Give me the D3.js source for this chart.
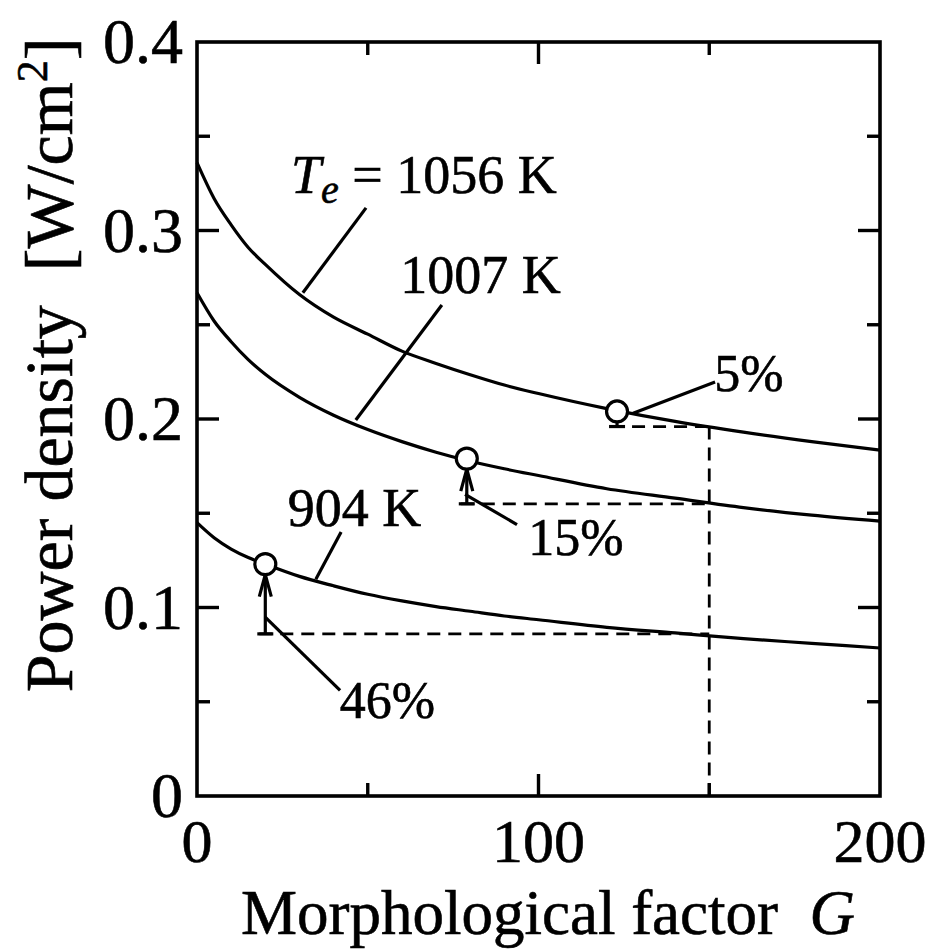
<!DOCTYPE html>
<html>
<head>
<meta charset="utf-8">
<script src="https://cdn.jsdelivr.net/npm/d3@7"></script>
<style>
  body { margin: 0; background: white; }
  text { font-family: "Liberation Serif", "Times New Roman", serif; fill: black; stroke: black; stroke-width: 0.6px; }
</style>
</head>
<body>
<div id="vis"></div>
<script>
// values
const G = [0, 5, 10, 15, 20, 30, 40, 50, 60, 70, 80, 90, 100, 120, 140, 160, 180, 200];
const p1056 = [0.336, 0.317, 0.303, 0.291, 0.282, 0.266, 0.254, 0.245, 0.236, 0.2295, 0.2235, 0.218, 0.2135, 0.2055, 0.1987, 0.193, 0.188, 0.1835];
const p1007 = [0.267, 0.252, 0.241, 0.2315, 0.2237, 0.2115, 0.202, 0.1944, 0.188, 0.1824, 0.1776, 0.1736, 0.170, 0.163, 0.158, 0.153, 0.149, 0.1458];
const p904 = [0.145, 0.137, 0.131, 0.1265, 0.123, 0.1165, 0.1115, 0.107, 0.1035, 0.1005, 0.098, 0.0955, 0.0935, 0.0895, 0.0865, 0.0835, 0.081, 0.0785];

// marked points: G, power on curve, level reached (dashed), percent label
const markG = [123, 79, 20];
const markP = [0.204, 0.179, 0.123];
const markLevel = [0.196, 0.155, 0.086];
const markLabel = ["5%", "15%", "46%"];
const Gread = 150;

const xTicks = [0, 100, 200];
const yTicks = [0, 0.1, 0.2, 0.3, 0.4];

let width = 931;
let height = 952;
let margin = { top: 42, bottom: 156, left: 197, right: 51 };

let svg = d3.select("#vis")
  .append("svg")
  .attr("width", width)
  .attr("height", height)
  .style("background", "white");

let xScale = d3.scaleLinear()
  .domain([0, 200])
  .range([margin.left, width - margin.right]);

let yScale = d3.scaleLinear()
  .domain([0, 0.4])
  .range([height - margin.bottom, margin.top]);

let x0 = xScale(0), x1 = xScale(200), y0 = yScale(0), y1 = yScale(0.4);

// ticks: inward on all four sides, majors longer
let major = 22, minor = 13;
let tg = svg.append("g").attr("stroke", "black").attr("stroke-width", 3.4);
d3.range(0, 201, 50).forEach(function(g) {
  let len = g % 100 === 0 ? major : minor;
  if (g === 0 || g === 200) return;
  tg.append("line").attr("x1", xScale(g)).attr("x2", xScale(g)).attr("y1", y0).attr("y2", y0 - len);
  tg.append("line").attr("x1", xScale(g)).attr("x2", xScale(g)).attr("y1", y1).attr("y2", y1 + len);
});
d3.range(1, 8).forEach(function(i) {
  let v = i * 0.05;
  let len = i % 2 === 0 ? major : minor;
  tg.append("line").attr("x1", x0).attr("x2", x0 + len).attr("y1", yScale(v)).attr("y2", yScale(v));
  tg.append("line").attr("x1", x1).attr("x2", x1 - len).attr("y1", yScale(v)).attr("y2", yScale(v));
});

// frame
svg.append("rect")
  .attr("x", x0).attr("y", y1)
  .attr("width", x1 - x0).attr("height", y0 - y1)
  .attr("fill", "none").attr("stroke", "black").attr("stroke-width", 3.6);

// tick labels
svg.selectAll(".xl").data(xTicks).enter().append("text")
  .attr("x", d => xScale(d))
  .attr("y", y0 + 66)
  .attr("text-anchor", "middle")
  .style("font-size", "62px")
  .text(d => d);

svg.selectAll(".yl").data(yTicks).enter().append("text")
  .attr("x", x0 - 14)
  .attr("y", d => yScale(d) + 21)
  .attr("text-anchor", "end")
  .style("font-size", "64px")
  .text(d => d === 0 ? "0" : d.toFixed(1));

// axis titles
let xt = svg.append("text")
  .attr("x", 548)
  .attr("y", 934)
  .attr("text-anchor", "middle")
  .style("font-size", "63px");
xt.append("tspan").text("Morphological factor\u00a0\u00a0");
xt.append("tspan").style("font-style", "italic").text("G");

let yt = svg.append("text")
  .attr("transform", "translate(72, 365) rotate(-90)")
  .attr("text-anchor", "middle")
  .style("font-size", "68px");
yt.append("tspan").text("Power density\u00a0\u00a0[W/cm");
yt.append("tspan").attr("dy", -25).style("font-size", "44px").text("2");
yt.append("tspan").attr("dy", 25).text("]");

// curves
let line = d3.line()
  .x((d, i) => xScale(G[i]))
  .y(d => yScale(d))
  .curve(d3.curveMonotoneX);

svg.selectAll(".curve").data([p1056, p1007, p904]).enter().append("path")
  .attr("d", d => line(d))
  .attr("fill", "none")
  .attr("stroke", "black")
  .attr("stroke-width", 3.2);

// dashed reading lines
let dash = "13,8";
markG.forEach(function(g, i) {
  svg.append("line")
    .attr("x1", xScale(g) - 6).attr("x2", xScale(Gread))
    .attr("y1", yScale(markLevel[i])).attr("y2", yScale(markLevel[i]))
    .attr("stroke", "black").attr("stroke-width", 2.8)
    .attr("stroke-dasharray", dash);
});
svg.append("line")
  .attr("x1", xScale(Gread)).attr("x2", xScale(Gread))
  .attr("y1", yScale(markLevel[0])).attr("y2", y0)
  .attr("stroke", "black").attr("stroke-width", 2.8)
  .attr("stroke-dasharray", dash);

// arrows from level up to point
let r = 10.5;
markG.forEach(function(g, i) {
  let cx = xScale(g);
  let top = yScale(markP[i]) + r;
  let bot = yScale(markLevel[i]);
  let a = svg.append("g").attr("stroke", "black").attr("stroke-width", 3.2).attr("fill", "none");
  a.append("line").attr("x1", cx).attr("x2", cx).attr("y1", top).attr("y2", bot);
  a.append("line").attr("x1", cx - 8).attr("x2", cx + 8).attr("y1", bot).attr("y2", bot);
  if (bot - top > 20) {
    a.append("path").attr("d", `M${cx - 6},${top + 22}L${cx},${top}L${cx + 6},${top + 22}`);
  }
});

// points
svg.selectAll(".pt").data(markG).enter().append("circle")
  .attr("cx", d => xScale(d))
  .attr("cy", (d, i) => yScale(markP[i]))
  .attr("r", r)
  .attr("fill", "white")
  .attr("stroke", "black")
  .attr("stroke-width", 3.2);

// leader lines, in data units [G1, P1, G2, P2]
const leaders = [
  [31, 0.267, 49.5, 0.312],
  [46.5, 0.1995, 71.7, 0.2605],
  [34.8, 0.115, 42.2, 0.140],
  [127.7, 0.203, 151.7, 0.2196],
  [78.5, 0.160, 93.7, 0.144],
  [19.9, 0.095, 41.9, 0.056]
];
svg.selectAll(".leader").data(leaders).enter().append("line")
  .attr("x1", d => xScale(d[0])).attr("y1", d => yScale(d[1]))
  .attr("x2", d => xScale(d[2])).attr("y2", d => yScale(d[3]))
  .attr("stroke", "black").attr("stroke-width", 3.2);

// curve labels
let te = svg.append("text")
  .attr("x", xScale(27.5)).attr("y", yScale(0.320))
  .style("font-size", "54px");
te.append("tspan").style("font-style", "italic").text("T");
te.append("tspan").attr("dy", 10).style("font-style", "italic").style("font-size", "40px").text("e");
te.append("tspan").attr("dy", -10).text(" = 1056 K");

svg.append("text")
  .attr("x", xScale(59.5)).attr("y", yScale(0.267))
  .style("font-size", "54px")
  .text("1007 K");

svg.append("text")
  .attr("x", xScale(26.6)).attr("y", yScale(0.143))
  .style("font-size", "54px")
  .text("904 K");

// percent labels
const pctG = [151.5, 97, 41.8];
const pctP = [0.215, 0.128, 0.0412];
svg.selectAll(".pct").data(markLabel).enter().append("text")
  .attr("x", (d, i) => xScale(pctG[i]))
  .attr("y", (d, i) => yScale(pctP[i]))
  .style("font-size", "52px")
  .text(d => d);
</script>
</body>
</html>
